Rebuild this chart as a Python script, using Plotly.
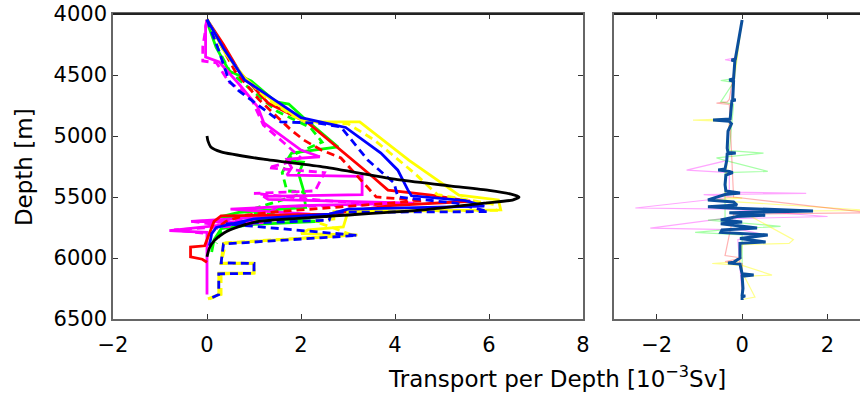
import plotly.graph_objects as go

# ---------------- data: left panel (transport per depth [1e-3 Sv] vs depth [m]) ----------------
black_x = [0, 0.02, 0.08, 0.3, 1.2, 2.5, 4.1, 5.2, 6.0, 6.45, 6.64, 6.5, 5.9, 4.6, 2.5, 1.1, 0.66, 0.36, 0.15, 0.05, 0]
black_depth = [5000, 5040, 5090, 5130, 5190, 5255, 5360, 5410, 5445, 5475, 5500, 5525, 5550, 5605, 5660, 5700, 5745, 5795, 5860, 5920, 5990]

red_solid_x = [0, 0.35, 0.7, 1.3, 2.15, 2.8, 3.53, 3.85, 4.77, 5.6, 4.8, 3.9, 2.6, 0.3, 0.15, 0.05, -0.05, -0.35, -0.35, -0.1, 0.0]
red_solid_depth = [4045, 4250, 4480, 4730, 4893, 5100, 5336, 5443, 5484, 5535, 5550, 5570, 5640, 5655, 5700, 5800, 5900, 5910, 5990, 6010, 6035]

red_dash_x = [0, 0.3, 0.6, 1.1, 1.79, 2.06, 2.43, 2.85, 3.42, 3.6, 4.6, 3.5, 1.5, 0.8, 0.4, 0.2]
red_dash_depth = [4050, 4260, 4470, 4700, 4951, 5033, 5115, 5180, 5418, 5500, 5530, 5560, 5620, 5650, 5700, 5760]

green_solid_x = [0, 0.04, 0.19, 0.47, 0.94, 1.19, 1.47, 1.74, 2.04, 2.79, 1.8, 1.7, 2.05, 1.95, 2.05, 2.1, 0.7, 0.3, 2.4, 1.0, 0.3, 0.15, 0.1]
green_solid_depth = [4045, 4107, 4270, 4467, 4549, 4631, 4721, 4738, 4844, 5090, 5140, 5200, 5215, 5310, 5440, 5585, 5625, 5660, 5700, 5725, 5760, 5850, 5950]

green_dash_x = [0, 0.25, 0.5, 1.0, 1.5, 2.2, 2.45, 1.8, 1.6, 1.7, 2.1, 1.8, 0.8, 1.6, 1.0, 0.3, 0.2]
green_dash_depth = [4050, 4300, 4480, 4640, 4800, 4930, 5050, 5160, 5300, 5450, 5460, 5500, 5620, 5650, 5700, 5780, 5880]

blue_solid_x = [0, 0.35, 0.8, 1.5, 2.0, 2.6, 2.95, 3.7, 4.06, 4.27, 4.35, 5.5, 5.9, 3.0, 2.6, 1.0, 0.2, 0.1, 0.05]
blue_solid_depth = [4045, 4280, 4540, 4720, 4850, 4900, 4930, 5140, 5280, 5440, 5490, 5530, 5575, 5600, 5640, 5680, 5750, 5800, 5900]

blue_dash_x = [0, 0.25, 0.47, 0.68, 1.26, 1.57, 2.36, 2.85, 3.42, 3.98, 4.06, 5.3, 5.98, 2.65, 2.6, 0.4, 3.2, 0.35, 0.3, 1.0, 1.0, 0.25, 0.25, 0.05]
blue_dash_depth = [4045, 4300, 4549, 4631, 4795, 4885, 4893, 4926, 5197, 5385, 5500, 5550, 5620, 5625, 5690, 5720, 5815, 5885, 6040, 6045, 6125, 6130, 6300, 6335]

yellow_solid_x = [0, 0.4, 0.83, 1.4, 1.9, 2.1, 3.25, 3.4, 4.3, 5.36, 6.2, 6.25, 3.0, 2.9, 2.15, 2.0, 3.2, 0.35, 0.3, 1.0, 1.0, 0.25, 0.25, 0.02]
yellow_solid_depth = [4040, 4330, 4533, 4713, 4844, 4885, 4885, 4930, 5200, 5484, 5524, 5605, 5620, 5745, 5770, 5800, 5810, 5880, 6040, 6042, 6122, 6125, 6300, 6335]

yellow_dash_x = [0, 0.3, 0.75, 1.3, 1.85, 2.3, 3.0, 3.55, 4.4, 4.9, 6.1, 6.15, 2.7, 2.7, 2.3, 3.1, 0.4, 0.3, 1.0, 1.0, 0.3, 0.3, 0.05]
yellow_dash_depth = [4045, 4260, 4510, 4700, 4840, 4890, 4900, 5030, 5300, 5480, 5560, 5610, 5620, 5680, 5700, 5812, 5875, 6045, 6045, 6125, 6130, 6300, 6335]

magenta_solid_x = [0, -0.03, -0.03, 0.26, 0.68, 1.08, 1.21, 2.0, 2.4, 1.7, 1.8, 1.7, 3.3, 3.3, 1.2, 1.3, 4.4, 2.0, 0.5, 2.2, -0.34, 1.2, 0.3, -0.8, 0.0, 0.0]
magenta_solid_depth = [4045, 4100, 4352, 4393, 4574, 4762, 4893, 5115, 5170, 5190, 5260, 5320, 5330, 5480, 5495, 5520, 5550, 5570, 5600, 5640, 5700, 5710, 5730, 5775, 5790, 6300]

magenta_dash_x = [0, -0.09, -0.09, 0.2, 0.47, 0.72, 0.95, 1.2, 1.64, 2.0, 1.6, 1.3, 2.5, 2.3, 1.0, 2.5, 3.8, 1.5, 1.1, -0.34, 0.5, -0.7, 0.0]
magenta_dash_depth = [4050, 4270, 4385, 4400, 4560, 4620, 4700, 4910, 5057, 5180, 5230, 5260, 5300, 5450, 5470, 5530, 5560, 5580, 5690, 5700, 5740, 5770, 5800]

# ---------------- data: right panel (differences) ----------------
right_blue_x = [0.0, -0.1, -0.16, -0.25, -0.17, -0.2, -0.3, -0.2, -0.22, -0.15, -0.24, -0.28, -0.68, -0.3, -0.25,
                -0.33, -0.35, -0.33, -0.15, -0.35, -0.36, -0.4, -0.56, -0.3, -0.22, -0.38, -0.4, -0.38, -0.05, -0.4,
                -0.8, -0.2, -0.12, -0.8, -0.3, 1.66, -0.3, 0.54, -0.12, -0.5, 0.0, -0.5, 0.35, -0.47, -0.5,
                0.6, -0.05, 0.55, -0.05, -0.05, -0.05, -0.2, -0.33, -0.05, 0.0, 0.27, 0.0, 0.02, 0.0, 0.07, 0.0, 0.0]
right_blue_depth = [4049, 4238, 4370, 4377, 4385, 4530, 4541, 4552, 4700, 4705, 4712, 4860, 4869, 4880, 4900,
                    4960, 5100, 5135, 5140, 5148, 5200, 5270, 5279, 5290, 5300, 5320, 5400, 5450, 5467, 5480,
                    5524, 5540, 5566, 5580, 5590, 5614, 5630, 5650, 5660, 5689, 5705, 5720, 5754, 5770, 5790,
                    5811, 5840, 5869, 5880, 5900, 6000, 6035, 6041, 6050, 6130, 6139, 6150, 6250, 6305, 6311, 6320, 6344]

right_pink_x = [0, -0.15, -0.4, -0.15, -0.25, -0.3, -0.35, -1.3, -0.3, -0.3, 1.5, -0.9, -0.2, -2.5, -0.3, 2.0, -0.5, -2.15, 0.0, 0.4, -0.1, 0.0]
right_pink_depth = [4050, 4360, 4375, 4390, 4700, 4900, 5200, 5280, 5300, 5460, 5470, 5480, 5500, 5590, 5600, 5660, 5680, 5755, 5770, 5800, 5850, 6300]

right_green_x = [0, -0.2, -0.5, -0.2, -0.5, -0.2, -0.3, 0.5, -0.6, -0.4, 0.6, -0.4, -0.4, -0.8, 0.9, -0.1, -1.1, 0.0, 0.0]
right_green_depth = [4050, 4530, 4545, 4560, 4720, 4740, 5120, 5140, 5180, 5200, 5290, 5300, 5680, 5690, 5740, 5760, 5790, 5810, 6300]

right_yellow_x = [0, -0.3, -1.15, -0.3, -0.4, 0.0, -0.8, 3.0, 0.0, 1.2, 1.1, 0.0, -0.05, -0.7, 0.0, 0.7, 0.05, 0.3, 0.0]
right_yellow_depth = [4050, 4860, 4870, 4880, 5500, 5510, 5525, 5610, 5620, 5850, 5880, 5890, 6030, 6045, 6060, 6140, 6150, 6320, 6340]

right_red_x = [0, -0.3, -0.35, -0.6, -0.3, -0.2, 3.0, -0.2, -0.4, 0.0, -0.4, 0.0, 0.0]
right_red_depth = [4050, 4700, 4720, 4730, 4740, 5500, 5630, 5640, 5980, 6000, 6030, 6045, 6300]

depth_ticks = [4000, 4500, 5000, 5500, 6000, 6500]
left_x_ticks = [-2, 0, 2, 4, 6, 8]
right_x_ticks = [-2, 0, 2]

# ---------------- figure ----------------
DASH = "8px,5px"
left_series = [
    (green_dash_x, green_dash_depth, "#00ff00", DASH),
    (green_solid_x, green_solid_depth, "#00ff00", "solid"),
    (magenta_dash_x, magenta_dash_depth, "#ff00ff", DASH),
    (magenta_solid_x, magenta_solid_depth, "#ff00ff", "solid"),
    (red_dash_x, red_dash_depth, "#ff0000", DASH),
    (red_solid_x, red_solid_depth, "#ff0000", "solid"),
    (yellow_solid_x, yellow_solid_depth, "#ffff00", "solid"),
    (yellow_dash_x, yellow_dash_depth, "#ffff00", DASH),
    (blue_solid_x, blue_solid_depth, "#0000ff", "solid"),
    (blue_dash_x, blue_dash_depth, "#0000ff", DASH),
]

fig = go.Figure()
for xs, ds, col, dash in left_series:
    fig.add_trace(go.Scatter(x=xs, y=ds, mode="lines", xaxis="x", yaxis="y",
                             line=dict(color=col, width=2.8, dash=dash)))
fig.add_trace(go.Scatter(x=black_x, y=black_depth, mode="lines", xaxis="x", yaxis="y",
                         line=dict(color="black", width=2.8, shape="spline", smoothing=0.6)))

right_faint = [
    (right_pink_x, right_pink_depth, "rgba(255,0,255,0.35)"),
    (right_green_x, right_green_depth, "rgba(0,255,0,0.35)"),
    (right_yellow_x, right_yellow_depth, "rgba(255,255,0,0.45)"),
    (right_red_x, right_red_depth, "rgba(255,0,0,0.3)"),
]
for xs, ds, col in right_faint:
    fig.add_trace(go.Scatter(x=xs, y=ds, mode="lines", xaxis="x2", yaxis="y2",
                             line=dict(color=col, width=1.2)))
fig.add_trace(go.Scatter(x=right_blue_x, y=right_blue_depth, mode="lines", xaxis="x2", yaxis="y2",
                         line=dict(color="#0b4f9c", width=3)))

tickfont = dict(family="DejaVu Sans", size=21, color="black")
axis_common = dict(showgrid=False, zeroline=False, showline=True, linecolor="#666666", linewidth=1.5,
                   ticks="inside", ticklen=5, tickcolor="#333333", tickfont=tickfont, automargin=False)

W, H = 860, 396
fig.update_layout(
    width=W, height=H,
    margin=dict(l=0, r=0, t=14, b=77, autoexpand=False),
    paper_bgcolor="white", plot_bgcolor="white",
    showlegend=False,
    xaxis=dict(domain=[113 / W, 583 / W], range=[-2, 8], tickvals=left_x_ticks,
               ticktext=["\u2212" + str(-v) if v < 0 else str(v) for v in left_x_ticks],
               mirror="ticks", anchor="y", ticklabelstandoff=6, **axis_common),
    yaxis=dict(domain=[0, 1], range=[6500, 4000], tickvals=depth_ticks,
               mirror="ticks", anchor="x", **axis_common),
    xaxis2=dict(domain=[614 / W, 1.0], range=[-3, 2.76], tickvals=right_x_ticks,
                ticktext=["\u2212" + str(-v) if v < 0 else str(v) for v in right_x_ticks],
                mirror="ticks", anchor="y2", ticklabelstandoff=6, **axis_common),
    yaxis2=dict(domain=[0, 1], range=[6500, 4000], tickvals=depth_ticks, showticklabels=False,
                mirror=False, anchor="x2", **axis_common),
    annotations=[
        dict(text="Transport per Depth [10<sup>\u22123</sup>Sv]", xref="paper", yref="paper",
             x=557 / W, y=-0.19, xanchor="center", yanchor="middle", showarrow=False,
             font=dict(family="DejaVu Sans", size=23, color="black")),
        dict(text="Depth [m]", xref="paper", yref="paper", x=24 / W, y=0.498, textangle=-90,
             xanchor="center", yanchor="middle", showarrow=False,
             font=dict(family="DejaVu Sans", size=23, color="black")),
    ],
    shapes=[
        dict(type="line", xref="paper", yref="paper", x0=113 / W, x1=583 / W, y0=1, y1=1,
             line=dict(color="#222222", width=2)),
        dict(type="line", xref="paper", yref="paper", x0=614 / W, x1=1.0, y0=1, y1=1,
             line=dict(color="#222222", width=2)),
    ],
)

fig.write_html("out.html", config={"displayModeBar": False},
               post_script="document.body.style.margin='0';document.body.style.padding='0';document.body.style.overflow='hidden';")
